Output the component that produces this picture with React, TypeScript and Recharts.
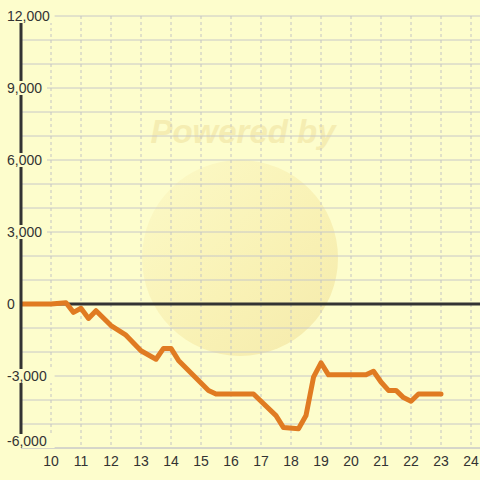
import { LineChart, Line, XAxis, YAxis, CartesianGrid, ReferenceLine } from "recharts";

const hours = [9, 10, 10.5, 10.75, 11, 11.25, 11.5, 12, 12.5, 13, 13.5, 13.75, 14, 14.25, 15.25, 15.5, 16.75, 17.5, 17.75, 18.25, 18.5, 18.75, 19, 19.25, 20.5, 20.75, 21, 21.25, 21.5, 21.75, 22, 22.25, 23];
const balance = [0, 0, 50, -350, -180, -600, -280, -900, -1300, -1950, -2300, -1850, -1850, -2350, -3600, -3750, -3750, -4650, -5150, -5200, -4650, -3050, -2450, -2950, -2950, -2800, -3250, -3600, -3600, -3900, -4050, -3750, -3750];

const xTicks = [10, 11, 12, 13, 14, 15, 16, 17, 18, 19, 20, 21, 22, 23, 24];
const yTicks = [-6000, -3000, 0, 3000, 6000, 9000, 12000];
const yGrid = [-6000, -5000, -4000, -3000, -2000, -1000, 0, 1000, 2000, 3000, 4000, 5000, 6000, 7000, 8000, 9000, 10000, 11000, 12000];

const data = hours.map((t, i) => ({ t, v: balance[i] }));

const BG = "#fdfdcc";

// left-aligned y labels with a background box over the axis line
function YTick(props: any) {
  const { x, y, payload } = props;
  const label = payload.value.toLocaleString("en-US");
  const ty = payload.value === -6000 ? y - 7 : y;
  const w = label.length * 7.6 + 4;
  return (
    <g>
      <rect x={x} y={ty - 7} width={w} height={14} fill={BG} />
      <text x={x + 2} y={ty} dy="0.355em" textAnchor="start" fill="#333" fontSize={14}>
        {label}
      </text>
    </g>
  );
}

export default function App() {
  return (
    <div
      style={{
        position: "absolute",
        left: 0,
        top: 0,
        width: 480,
        height: 480,
        background: BG,
        overflow: "hidden",
        fontFamily: "'Liberation Sans', Arial, sans-serif"
      }}
    >
      <div
        style={{
          position: "absolute",
          left: 142,
          top: 160,
          width: 196,
          height: 196,
          borderRadius: "50%",
          background: "linear-gradient(135deg, #fcf9c6 0%, #f8efb0 60%, #f3e7a6 100%)",
          opacity: 0.85
        }}
      />
      <div
        style={{
          position: "absolute",
          left: 0,
          width: 486,
          top: 113,
          textAlign: "center",
          fontSize: 33,
          fontWeight: "bold",
          fontStyle: "italic",
          color: "#f5edb2"
        }}
      >
        Powered by
      </div>
      <div style={{ position: "absolute", left: 0, top: 0 }}>
        <LineChart width={480} height={480} data={data} margin={{ top: 16, right: 0, bottom: 0, left: 0 }}>
          <CartesianGrid horizontal={true} vertical={false} horizontalValues={yGrid} stroke="#c8c8c8" />
          <CartesianGrid horizontal={false} vertical={true} verticalValues={xTicks} stroke="#c4c4c4" strokeDasharray="3 3" />
          <XAxis
            type="number"
            dataKey="t"
            domain={[9, 24.3]}
            ticks={xTicks}
            allowDataOverflow
            height={32}
            axisLine={{ stroke: "#c8c8c8", strokeWidth: 1 }}
            tickLine={false}
            tick={{ fill: "#333", fontSize: 14 }}
          />
          <YAxis
            type="number"
            domain={[-6000, 12000]}
            ticks={yTicks}
            width={21}
            axisLine={{ stroke: "#333", strokeWidth: 3 }}
            tickLine={false}
            tickMargin={10}
            tick={<YTick />}
          />
          <ReferenceLine y={0} stroke="#333" strokeWidth={3} />
          <Line
            type="linear"
            dataKey="v"
            stroke="#e07b22"
            strokeWidth={5}
            strokeLinejoin="round"
            strokeLinecap="round"
            dot={false}
            isAnimationActive={false}
          />
        </LineChart>
      </div>
    </div>
  );
}
